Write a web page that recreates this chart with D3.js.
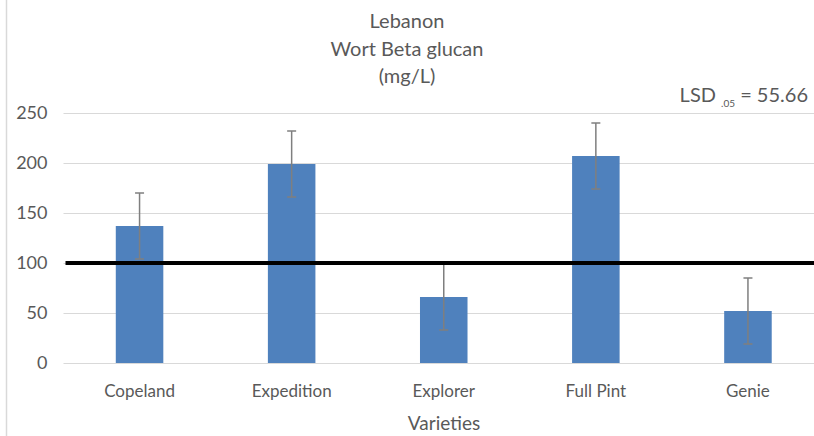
<!DOCTYPE html>
<html>
<head>
<meta charset="utf-8">
<script src="https://cdn.jsdelivr.net/npm/d3@7"></script>
<style>
    html, body { margin: 0; padding: 0; background: #fff; overflow: hidden; }
    svg { display: block; font-family: Lato, "Open Sans", sans-serif; }
</style>
</head>
<body>
<svg id="chart" width="814" height="436"></svg>
<script>
// Data
const varieties = ['Copeland', 'Expedition', 'Explorer', 'Full Pint', 'Genie'];
const betaGlucan = [137, 199, 66, 207, 52];
const errors = [33, 33, 33, 33, 33];
const yTicks = [0, 50, 100, 150, 200, 250];
const refValue = 100;

const width = 814;
const height = 436;

// Set margins (plot runs off the right edge, like the cropped original)
const margin = { top: 113, right: -10, bottom: 73, left: 63.5 };

const svg = d3.select('#chart');
const textColor = '#595959';
const font = 'Lato, "Open Sans", sans-serif';

// Scales
const x = d3.scaleBand()
    .domain(varieties)
    .range([margin.left, width - margin.right])
    .paddingInner(0.6875)
    .paddingOuter(0.34375);

const y = d3.scaleLinear()
    .domain([0, 250])
    .range([height - margin.bottom, margin.top]);

// Chart border on the left
svg.append('line')
    .attr('x1', 6.5).attr('x2', 6.5)
    .attr('y1', 0).attr('y2', height)
    .attr('stroke', '#d9d9d9')
    .attr('stroke-width', 1.5);

// Gridlines + y labels
const yAxis = d3.axisLeft(y)
    .tickValues(yTicks)
    .tickSize(-(width - margin.left))
    .tickPadding(16);

svg.append('g')
    .attr('transform', `translate(${margin.left},0)`)
    .call(yAxis)
    .call(g => g.select('.domain').remove())
    .call(g => g.selectAll('.tick line').attr('stroke', '#d9d9d9').attr('stroke-width', 1.2))
    .call(g => g.selectAll('.tick text')
        .attr('fill', textColor)
        .style('font-size', '18px')
        .style('font-family', font));

// Bars
svg.append('g')
    .selectAll('rect')
    .data(varieties)
    .join('rect')
    .attr('x', d => x(d))
    .attr('y', (d, i) => y(betaGlucan[i]))
    .attr('width', x.bandwidth())
    .attr('height', (d, i) => y(0) - y(betaGlucan[i]))
    .attr('fill', '#4f81bd');

// Error bars
const capHalf = 4.5;
const err = svg.append('g')
    .attr('stroke', '#7f7f7f')
    .attr('stroke-width', 1.5);

varieties.forEach((d, i) => {
    const cx = x(d) + x.bandwidth() / 2;
    const hi = y(betaGlucan[i] + errors[i]);
    const lo = y(betaGlucan[i] - errors[i]);
    err.append('line').attr('x1', cx).attr('x2', cx).attr('y1', hi).attr('y2', lo);
    err.append('line').attr('x1', cx - capHalf).attr('x2', cx + capHalf).attr('y1', hi).attr('y2', hi);
    err.append('line').attr('x1', cx - capHalf).attr('x2', cx + capHalf).attr('y1', lo).attr('y2', lo);
});

// Reference line at 100
svg.append('line')
    .attr('x1', margin.left + 2)
    .attr('x2', width)
    .attr('y1', y(refValue))
    .attr('y2', y(refValue))
    .attr('stroke', '#000')
    .attr('stroke-width', 4);

// Category labels
svg.append('g')
    .selectAll('text')
    .data(varieties)
    .join('text')
    .attr('x', d => x(d) + x.bandwidth() / 2)
    .attr('y', 397)
    .attr('text-anchor', 'middle')
    .attr('fill', textColor)
    .style('font-size', '17px')
    .text(d => d);

// Axis title
svg.append('text')
    .attr('x', 444)
    .attr('y', 430)
    .attr('text-anchor', 'middle')
    .attr('fill', textColor)
    .style('font-size', '19px')
    .text('Varieties');

// Titles
const titles = [
    { text: 'Lebanon', y: 28 },
    { text: 'Wort Beta glucan', y: 56 },
    { text: '(mg/L)', y: 83 }
];
svg.append('g')
    .selectAll('text')
    .data(titles)
    .join('text')
    .attr('x', 407)
    .attr('y', d => d.y)
    .attr('text-anchor', 'middle')
    .attr('fill', textColor)
    .style('font-size', '20px')
    .text(d => d.text);

// LSD label
const lsd = svg.append('text')
    .attr('x', 808)
    .attr('y', 102)
    .attr('text-anchor', 'end')
    .attr('fill', textColor)
    .style('font-size', '20px');
lsd.append('tspan').text('LSD ');
lsd.append('tspan').attr('dy', 5).style('font-size', '10px').text('.05');
lsd.append('tspan').attr('dy', -5).text(' = 55.66');
</script>
</body>
</html>
